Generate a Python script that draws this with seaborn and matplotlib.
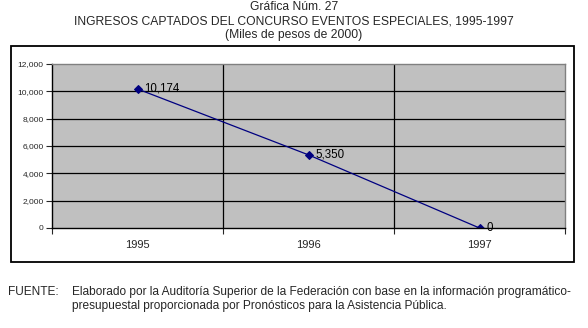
import matplotlib
matplotlib.use("Agg")
import matplotlib.pyplot as plt
import seaborn as sns
import pandas as pd
from matplotlib.patches import Rectangle

years = ["1995", "1996", "1997"]
values = [10174, 5350, 0]
labels = ["10,174", "5,350", "0"]
yticks = [0, 2000, 4000, 6000, 8000, 10000, 12000]

sns.set_style("white")
plt.rcParams['font.family'] = ['Liberation Sans', 'DejaVu Sans']

W, H = 588, 328
fig = plt.figure(figsize=(W / 100, H / 100), dpi=100)
fig.patch.set_facecolor("white")

# outer frame
fig.patches.append(Rectangle((11 / W, 1 - 262 / H), (574 - 11) / W, (262 - 46) / H,
                             transform=fig.transFigure, fill=False, edgecolor="black", lw=1.3))

left, top, right, bottom = 52, 64, 565, 228
ax = fig.add_axes([left / W, 1 - bottom / H, (right - left) / W, (bottom - top) / H])
ax.set_facecolor("#c0c0c0")

df = pd.DataFrame({"year": years, "value": values})
df["pos"] = range(len(years))
sns.lineplot(data=df, x="pos", y="value", ax=ax, color="#000080", lw=0.9,
             marker="D", markersize=4.5, markeredgecolor="#000080", markerfacecolor="#000080")

for i, (v, t) in enumerate(zip(values, labels)):
    ax.annotate(t, (i, v), xytext=(5, 0), textcoords="offset points", va="center", ha="left",
                fontsize=8.3, color="black")

ax.set_xlim(-0.5, len(years) - 0.5)
ax.set_ylim(0, 12000)
ax.set_yticks(yticks)
ax.set_yticklabels([f"{t:,}" for t in yticks], fontsize=6)
ax.set_xticks(range(len(years)))
ax.set_xticklabels(years, fontsize=8)
ax.set_xticks([i - 0.5 for i in range(len(years) + 1)], minor=True)
ax.tick_params(axis="x", which="major", length=0, pad=9)
ax.tick_params(axis="x", which="minor", length=4, width=0.8, direction="out", bottom=True)
ax.tick_params(axis="y", length=4, width=0.8, direction="out", left=True, pad=2)
for y in yticks[1:-1]:
    ax.axhline(y, color="black", lw=0.9, zorder=1)
for i in range(1, len(years)):
    ax.axvline(i - 0.5, color="black", lw=0.9, zorder=1)
ax.set_xlabel("")
ax.set_ylabel("")
for s in ["top", "right"]:
    ax.spines[s].set_color("#808080")
    ax.spines[s].set_linewidth(1)
for s in ["left", "bottom"]:
    ax.spines[s].set_color("black")
    ax.spines[s].set_linewidth(1)

fs = 8.7
fig.text(294 / W, 1 - 7 / H, "Gráfica Núm. 27", ha="center", va="center", fontsize=fs)
fig.text(294 / W, 1 - 21 / H, "INGRESOS CAPTADOS DEL CONCURSO EVENTOS ESPECIALES, 1995-1997",
         ha="center", va="center", fontsize=fs)
fig.text(294 / W, 1 - 35 / H, "(Miles de pesos de 2000)", ha="center", va="center", fontsize=fs)

ffs = 8.6
fig.text(8 / W, 1 - 292 / H, "FUENTE:", ha="left", va="center", fontsize=ffs)
fig.text(72 / W, 1 - 292 / H,
         "Elaborado por la Auditoría Superior de la Federación con base en la información programático-",
         ha="left", va="center", fontsize=ffs)
fig.text(72 / W, 1 - 306 / H,
         "presupuestal proporcionada por Pronósticos para la Asistencia Pública.",
         ha="left", va="center", fontsize=ffs)

fig.savefig("out.png", dpi=100)
